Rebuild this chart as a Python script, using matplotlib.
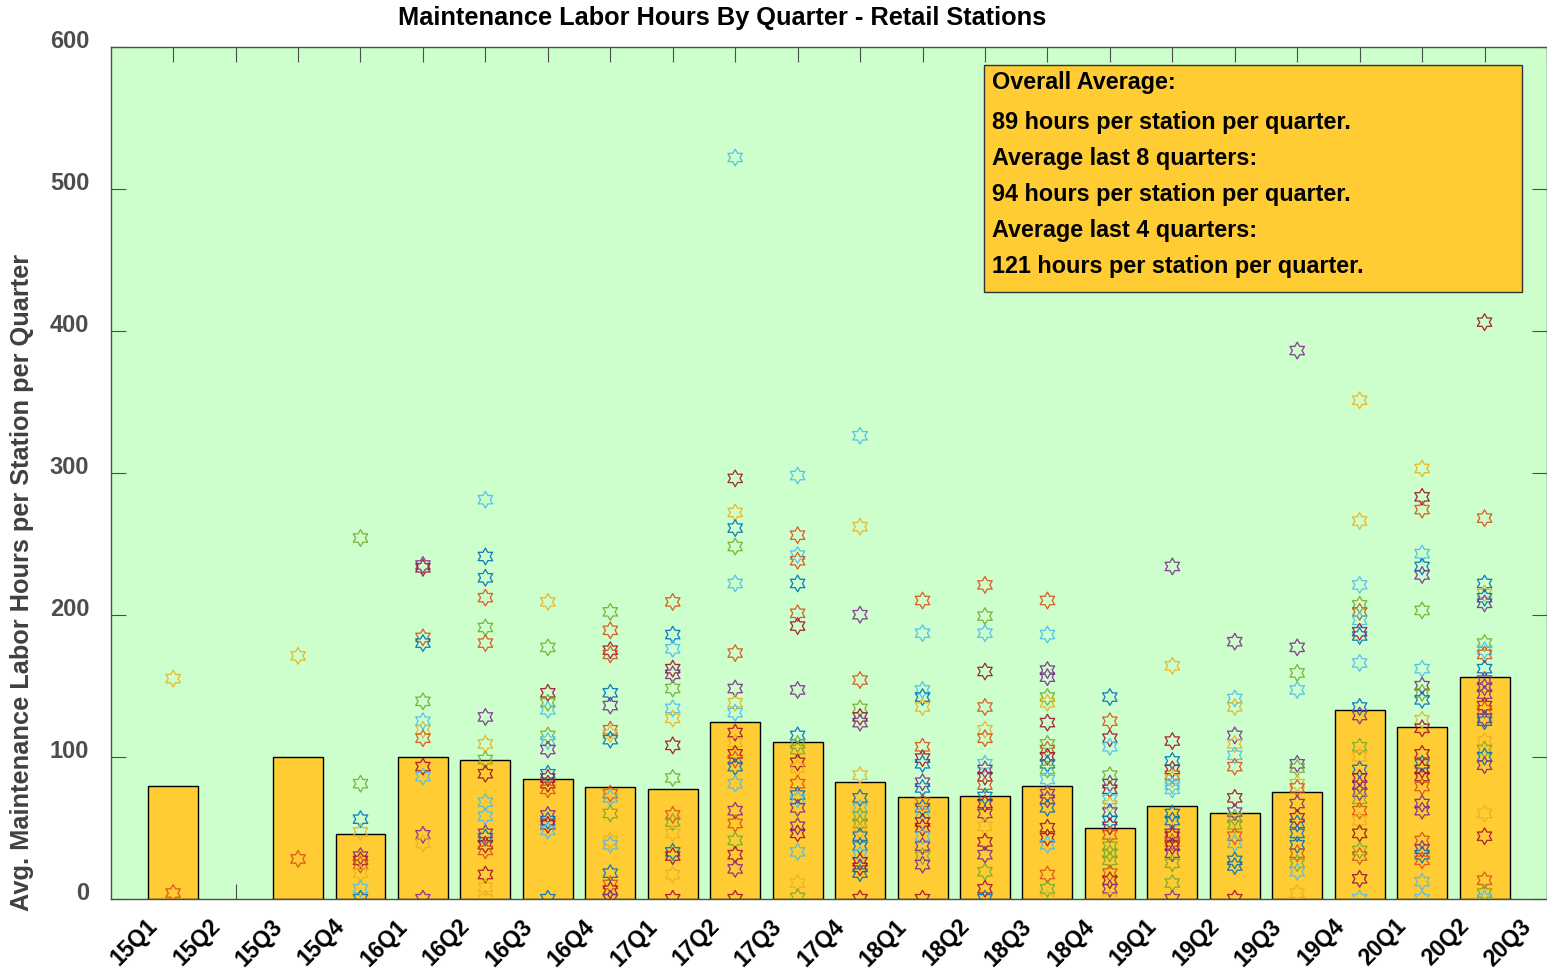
import numpy as np
import matplotlib
matplotlib.use('Agg')
from matplotlib import pyplot as plt
from matplotlib.path import Path
from matplotlib.patches import Rectangle
from matplotlib.transforms import ScaledTranslation

plt.rcParams['font.family'] = ['Liberation Sans', 'DejaVu Sans']
plt.rcParams['font.weight'] = 'bold'

# quarters on the x axis
quarters = ['15Q1', '15Q2', '15Q3', '15Q4', '16Q1', '16Q2', '16Q3', '16Q4',
            '17Q1', '17Q2', '17Q3', '17Q4', '18Q1', '18Q2', '18Q3', '18Q4',
            '19Q1', '19Q2', '19Q3', '19Q4', '20Q1', '20Q2', '20Q3']

# average hours per station (bars)
avg_hours = [79.4, np.nan, 100.0, 45.3, 99.6, 97.7, 84.5, 78.9, 77.3, 124.2, 110.4,
             82.4, 71.6, 72.6, 79.6, 49.6, 65.5, 60.6, 75.4, 132.6, 121.1, 155.9, np.nan]

# hours of each station per quarter (stars)
station_hours = [
    [155, 4],
    [],
    [171, 28],
    [254, 81, 56, 47, 30, 27, 24, 18, 7, 0],
    [235, 233, 184, 180, 139, 125, 119, 113, 93, 86, 45, 39, 0],
    [281, 241, 226, 212, 191, 180, 128, 109, 98, 88, 68, 58, 46, 43, 38, 34, 17, 8, 0],
    [209, 177, 145, 138, 133, 115, 111, 105, 88, 85, 81, 77, 59, 55, 52, 48, 0],
    [202, 189, 175, 172, 145, 136, 119, 116, 112, 74, 71, 60, 41, 38, 18, 10, 6, 0, 0],
    [209, 186, 176, 162, 158, 148, 134, 127, 108, 85, 59, 54, 46, 33, 30, 17, 0],
    [522, 296, 272, 261, 248, 222, 173, 148, 138, 131, 117, 110, 102, 98, 93, 81, 62, 53, 41, 31, 21, 0],
    [298, 256, 242, 238, 222, 201, 192, 147, 115, 109, 105, 96, 92, 81, 73, 70, 64, 51, 46, 33, 11, 1],
    [326, 262, 200, 154, 134, 128, 124, 87, 71, 64, 58, 53, 48, 44, 37, 31, 26, 22, 18, 0],
    [210, 187, 147, 142, 135, 107, 99, 95, 82, 78, 68, 64, 60, 54, 50, 44, 37, 30, 24, 0],
    [221, 199, 187, 160, 135, 119, 113, 95, 91, 86, 80, 72, 67, 60, 51, 40, 31, 19, 7, 0],
    [210, 186, 161, 156, 142, 138, 124, 109, 105, 100, 95, 91, 84, 74, 70, 64, 50, 43, 38, 17, 7, 0],
    [142, 125, 113, 107, 87, 81, 77, 70, 66, 61, 55, 51, 45, 37, 32, 27, 18, 13, 7, 0],
    [234, 164, 111, 97, 91, 87, 84, 80, 77, 60, 55, 46, 44, 40, 37, 32, 25, 11, 0],
    [181, 141, 135, 115, 109, 101, 93, 71, 61, 57, 52, 44, 39, 27, 23, 0],
    [386, 177, 159, 147, 95, 92, 81, 78, 67, 57, 53, 46, 38, 32, 25, 19, 4],
    [351, 266, 221, 207, 202, 196, 188, 185, 166, 135, 129, 107, 100, 91, 85, 80, 75, 70, 62, 55, 46, 34, 30, 14, 0],
    [303, 283, 274, 243, 234, 228, 203, 162, 150, 145, 140, 126, 120, 102, 95, 91, 86, 79, 67, 62, 41, 35, 31, 27, 12, 0],
    [406, 268, 222, 215, 212, 208, 180, 175, 172, 162, 154, 149, 144, 136, 133, 127, 125, 111, 105, 100, 94, 60, 44, 13, 4, 0],
    [],
]
# colour code of each star (b o y p g l r = matlab default order)
station_colors = [
    "yo", "", "yo", "ggbyproylb", "probglyorlpyp", "lbbogopygrllpbroryy",
    "ygrglglpbrropbrlb", "gorobpoybolgylborgp", "oblrpglyrgogybryr",
    "lrybglopylryroblpogrpr", "loloborpbggryoblpprlyg", "lypogrpyblggybblrrbr",
    "ollbyorbpboblrrlpgpr", "oglroyolprobrpyrpgrb", "olppgyrgorbglppbrrlogy",
    "borlgprlypbrogggorpy", "pyrbroyllbbprorpggp", "plypylorpggolbbr",
    "ppglpgyoprbbbogly", "yylgolrblbpgybrppgoyrgorl", "yrolbpglpgbyrrbrroppopboll",
    "robybpglobpppropbygbpyrogl", "",
]
palette = {'b': '#0072BD', 'o': '#D95319', 'y': '#EDB120', 'p': '#7E2F8E',
           'g': '#77AC30', 'l': '#4DBEEE', 'r': '#A2142F'}

info_lines = ['Overall Average:', '89 hours per station per quarter.',
              'Average last 8 quarters:', '94 hours per station per quarter.',
              'Average last 4 quarters:', '121 hours per station per quarter.']

W, H = 1547, 968
fig = plt.figure(figsize=(W / 100, H / 100), dpi=100)
ax = fig.add_axes([110.7 / W, 69.3 / H, (W - 110.7) / W, 852 / H])
ax.set_facecolor('#CCFFCC')

x = np.arange(1, len(quarters) + 1)
ax.bar(x, avg_hours, width=0.8, color='#FFCC33', edgecolor='black', linewidth=1, zorder=2)

# hexagram marker
star = Path.unit_regular_star(6, 1 / np.sqrt(3))
for i, (vals, cols) in enumerate(zip(station_hours, station_colors)):
    if len(vals) == 0:
        continue
    ax.scatter(np.full(len(vals), x[i]), vals, s=12 ** 2, marker=star,
               facecolors='none', edgecolors=[palette[c] for c in cols],
               linewidths=0.95, alpha=0.9, zorder=3)

ax.set_xlim(0, 23)
ax.set_ylim(0, 600)
ax.set_xticks(x)
ax.set_xticklabels(quarters, rotation=45, ha='right', va='top', fontsize=16.5, color='black')
ax.set_yticks(np.arange(0, 601, 100))
ax.tick_params(direction='in', length=10.8, width=0.8, color='#4d4d4d',
               top=True, right=True)
ax.tick_params(axis='x', pad=11.5)
ax.tick_params(axis='y', pad=15.5, labelsize=17, labelcolor='#4d4d4d')
for lab in ax.get_xticklabels():
    lab.set_transform(lab.get_transform() + ScaledTranslation(-0.11, 0, fig.dpi_scale_trans))
for lab in ax.get_yticklabels():
    lab.set_transform(lab.get_transform() + ScaledTranslation(0, 0.08, fig.dpi_scale_trans))
for sp in ax.spines.values():
    sp.set_color('#4d4d4d')
    sp.set_linewidth(1)

# info box
ax.add_patch(Rectangle((0.608, 0.712), 0.3746, 0.2665, transform=ax.transAxes,
                       facecolor='#FFCC33', edgecolor='#333333', linewidth=1, zorder=4))
line_y = [0.958, 0.911, 0.869, 0.826, 0.784, 0.742]
for txt, yy in zip(info_lines, line_y):
    ax.text(0.6135, yy, txt, transform=ax.transAxes, fontsize=16.8,
            ha='left', va='center', color='black', zorder=5)

fig.text(722 / W, 1 - 18 / H, 'Maintenance Labor Hours By Quarter - Retail Stations',
         ha='center', va='center', fontsize=18.3, color='black')
fig.text(22 / W, 1 - 582.5 / H, 'Avg. Maintenance Labor Hours per Station per Quarter',
         rotation=90, ha='center', va='center', fontsize=18.3, color='#404040')

fig.savefig('out.png', dpi=100)
